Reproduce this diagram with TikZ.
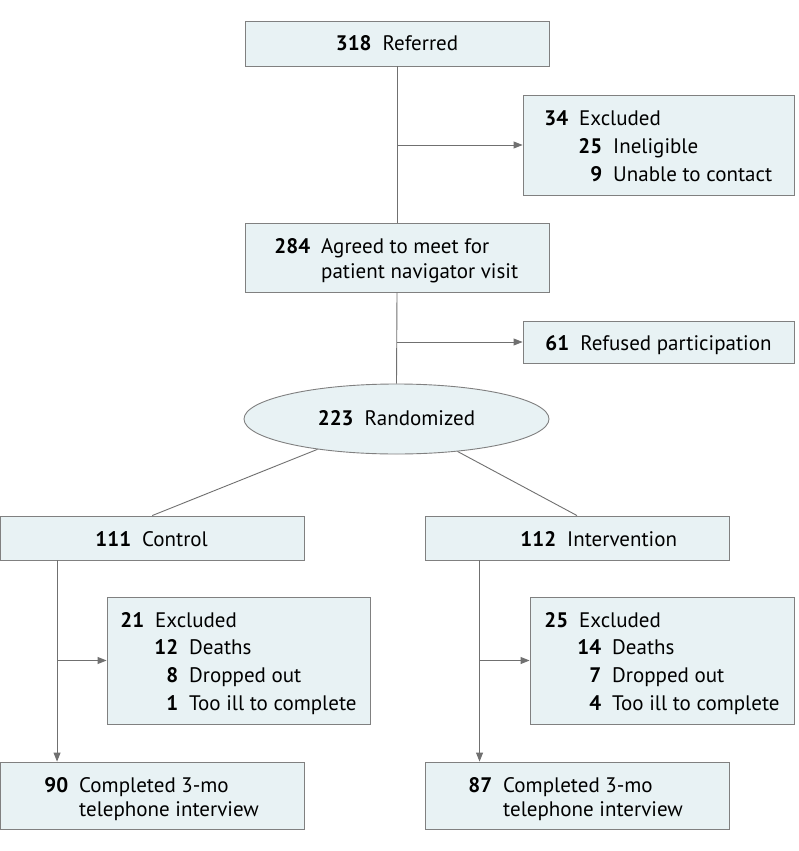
\documentclass[tikz,border=0pt]{standalone}
\usepackage{fontspec}
\setmainfont{PT Sans}
\usetikzlibrary{arrows.meta,shapes.geometric}
\definecolor{boxfill}{HTML}{E8F2F4}
\definecolor{boxline}{HTML}{808080}
\definecolor{conn}{HTML}{707070}
\newcommand{\numlab}[2]{\llap{\bfseries #1\kern11pt}#2}
\begin{document}
\begin{tikzpicture}[x=1pt,y=-1pt,
  bx/.style={draw=boxline,fill=boxfill,line width=0.9pt,inner sep=0pt,rectangle},
  ell/.style={draw=boxline,fill=boxfill,line width=0.9pt,inner sep=0pt,ellipse,minimum width=305pt,minimum height=70pt},
  txt/.style={inner sep=0pt,anchor=base west,font=\fontsize{21}{25}\selectfont},
  ctxt/.style={inner sep=0pt,anchor=base,font=\fontsize{21}{25}\selectfont},
  conline/.style={draw=conn,line width=0.9pt},
  arr/.style={conline,-{Triangle[length=9pt,width=7pt]}}]
\useasboundingbox (0,0) rectangle (798,851);
\fill[white] (0,0) rectangle (798,851);
% boxes
\node[bx,minimum width=304pt,minimum height=45pt] (top) at (397,43.5) {};
\node[bx,minimum width=271pt,minimum height=100pt] (exa) at (658.5,145) {};
\node[bx,minimum width=304pt,minimum height=69pt] (agree) at (397,257.5) {};
\node[bx,minimum width=271pt,minimum height=42pt] (ref) at (658.5,342) {};
\node[ell] (rand) at (396.5,419) {};
\node[bx,minimum width=303.5pt,minimum height=44pt] (ctrl) at (152.25,538) {};
\node[bx,minimum width=304pt,minimum height=44pt] (intv) at (577,538) {};
\node[bx,minimum width=263pt,minimum height=127pt] (exb) at (238.5,660.5) {};
\node[bx,minimum width=264pt,minimum height=127pt] (exc) at (662,660.5) {};
\node[bx,minimum width=303.5pt,minimum height=67pt] (compa) at (152.25,795.5) {};
\node[bx,minimum width=304pt,minimum height=67pt] (compb) at (577,795.5) {};
% texts
\node[ctxt] (ttop) at (397,51) {\textbf{318}\kern11pt Referred};
\node[txt] (ta1) at (579,125) {\numlab{34}{Excluded}};
\node[txt] (ta2) at (613,153) {\numlab{25}{Ineligible}};
\node[txt] (ta3) at (613,181) {\numlab{9}{Unable to contact}};
\node[txt] (tg1) at (321,253) {\numlab{284}{Agreed to meet for}};
\node[txt] (tg2) at (321,278) {patient navigator visit};
\node[ctxt] (tref) at (658.5,350) {\textbf{61}\kern11pt Refused participation};
\node[ctxt] (trand) at (396.5,425) {\textbf{223}\kern11pt Randomized};
\node[txt] (tctrl) at (142,546) {\numlab{111}{Control}};
\node[txt] (tintv) at (567,546) {\numlab{112}{Intervention}};
\node[txt] (tb1) at (155,627) {\numlab{21}{Excluded}};
\node[txt] (tb2) at (189,654) {\numlab{12}{Deaths}};
\node[txt] (tb3) at (189,682) {\numlab{8}{Dropped out}};
\node[txt] (tb4) at (189,710) {\numlab{1}{Too ill to complete}};
\node[txt] (tc1) at (579,627) {\numlab{25}{Excluded}};
\node[txt] (tc2) at (612,654) {\numlab{14}{Deaths}};
\node[txt] (tc3) at (612,682) {\numlab{7}{Dropped out}};
\node[txt] (tc4) at (612,710) {\numlab{4}{Too ill to complete}};
\node[txt] (td1) at (79,792) {\numlab{90}{Completed 3-mo}};
\node[txt] (td2) at (79,816) {telephone interview};
\node[txt] (te1) at (503,792) {\numlab{87}{Completed 3-mo}};
\node[txt] (te2) at (503,816) {telephone interview};
% connectors
\draw[conline] (top.south) -- (agree.north);
\draw[conline] (agree.south) -- (rand.north);
\coordinate (ja) at (397,145);
\coordinate (jb) at (397,342);
\draw[arr] (ja) -- (exa.west);
\draw[arr] (jb) -- (ref.west);
\draw[conline] (rand.201.6) -- (ctrl.north);
\draw[conline] (rand.332.5) -- (intv.north);
\coordinate (ca) at ([xshift=57pt]ctrl.south west);
\coordinate (cb) at ([xshift=55pt]intv.south west);
\draw[arr] (ca) -- (ca |- compa.north);
\draw[arr] (cb) -- (cb |- compb.north);
\draw[arr] (ca |- exb.west) -- (exb.west);
\draw[arr] (cb |- exc.west) -- (exc.west);
\end{tikzpicture}
\end{document}
